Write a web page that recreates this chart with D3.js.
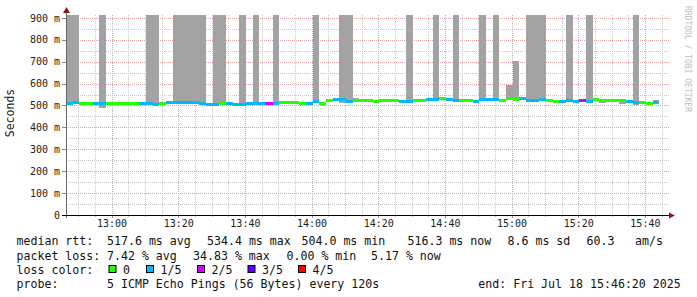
<!DOCTYPE html>
<html><head><meta charset="utf-8">
<script src="https://cdn.jsdelivr.net/npm/d3@7"></script>
<style>
html,body{margin:0;padding:0;background:#fff;}
svg{display:block;}
text{font-family:"DejaVu Sans Mono",monospace;}
</style></head>
<body><svg id="c" width="697" height="297"></svg>
<script>
// ---- data (ms) ----
const startTime = "2025-07-18T12:46:20Z";
const endTime = "2025-07-18T15:46:20Z";
const stepSeconds = 120;
const median = [507,513,510,510,510,507,509,510,510,510,510,510,510,506,510,515,512,512,514,512,
508,505,505,508,507,506,506,508,508,508,508,510,513,513,514,508,511,518,508,521,
525,525,519,521,521,524,519,524,521,521,519,519,522,522,527,527,530,525,524,521,
521,519,527,528,525,521,530,527,530,524,524,527,524,518,516,521,516,524,519,525,
524,521,521,524,519,515,513,510,513];
const lossIndex = [1,1,0,0,1,1,0,0,0,0,0,1,1,1,0,1,1,1,1,1,
1,1,1,0,1,1,1,1,1,1,2,1,0,0,0,0,1,1,0,0,
1,1,1,0,0,0,0,0,0,0,1,1,0,0,1,1,0,1,1,0,
0,1,1,1,1,0,0,0,1,1,1,1,0,0,1,1,1,2,1,0,
0,0,0,0,1,1,0,0,1];
const smokeLow = [503,508,507,507,506,487,505,507,507,506,507,507,505,502,506,511,508,508,510,507,
503,501,500,503,503,502,501,504,504,505,505,506,509,509,510,504,507,511,504,515,
520,513,510,517,517,519,514,518,516,515,514,514,518,517,522,521,526,521,518,516,
515,514,521,524,520,515,526,522,526,519,519,522,520,514,510,516,511,520,514,520,
512,516,517,508,514,500,508,506,508];
const smokeHigh = [1000,1000,513,513,514,1000,512,513,514,513,513,514,1000,1000,514,518,1000,1000,1000,1000,
1000,509,1000,1000,511,510,1000,512,1000,511,511,1000,517,522,522,513,514,1000,512,524,
528,1000,1000,532,525,527,523,528,525,528,523,1000,526,526,533,1000,534,529,1000,528,
527,524,1000,532,1000,526,594,703,534,1000,1000,1000,528,523,522,1000,527,528,1000,529,
528,527,525,528,524,1000,517,514,526];
const lossLabels = ["0","1/5","2/5","3/5","4/5"];
const lossColors = ["#26ff00","#00b8ff","#d400ff","#5e00ff","#ff0000"];
const yTicks = [0,100,200,300,400,500,600,700,800,900];

// ---- layout ----
const svg = d3.select("#c");
svg.append("rect").attr("width",697).attr("height",297).attr("fill","#fff");
const L = 66, R = 666, T = 15, B = 215;
const x = d3.scaleUtc().domain([new Date(startTime), new Date(endTime)]).range([L, R]);
const y = d3.scaleLinear().domain([0, 913]).range([B, T]);
const t0 = new Date(startTime).getTime();
const times = median.map((_, i) => new Date(t0 + i * stepSeconds * 1000));

// grid
const g = svg.append("g");
const minorY = d3.range(50, 901, 100);
g.selectAll("line.hmin").data(minorY).join("line")
  .attr("x1", L).attr("x2", 669).attr("y1", d => Math.round(y(d)) + 0.5).attr("y2", d => Math.round(y(d)) + 0.5)
  .attr("stroke", "#c8c8c8").attr("stroke-dasharray", "1,1");
const minorX = d3.utcMinute.every(5).range(new Date(startTime), new Date(endTime)).filter(d => d.getUTCMinutes() % 20 !== 0);
g.selectAll("line.vmin").data(minorX).join("line")
  .attr("x1", d => Math.round(x(d)) + 0.5).attr("x2", d => Math.round(x(d)) + 0.5).attr("y1", T).attr("y2", B)
  .attr("stroke", "#c8c8c8").attr("stroke-dasharray", "1,1");
g.selectAll("line.hmaj").data(yTicks.slice(1)).join("line")
  .attr("x1", L).attr("x2", 669).attr("y1", d => Math.round(y(d)) + 0.5).attr("y2", d => Math.round(y(d)) + 0.5)
  .attr("stroke", "#e4a0a0").attr("stroke-dasharray", "1,1");
const majorX = d3.utcMinute.every(20).range(new Date(startTime), new Date(endTime));
g.selectAll("line.vmaj").data(majorX).join("line")
  .attr("x1", d => Math.round(x(d)) + 0.5).attr("x2", d => Math.round(x(d)) + 0.5).attr("y1", T).attr("y2", B)
  .attr("stroke", "#e4a0a0").attr("stroke-dasharray", "1,1");

// clip
svg.append("clipPath").attr("id","pc").append("rect").attr("x",L).attr("y",T).attr("width",R-L).attr("height",B-T);
const plot = svg.append("g").attr("clip-path","url(#pc)").attr("shape-rendering","crispEdges");
const bx = i => Math.round(x(times[i]));
const bw = i => Math.round(x(new Date(times[i].getTime() + stepSeconds*1000))) - bx(i);

// smoke
plot.selectAll("rect.smoke").data(median).join("rect")
  .attr("x", (d,i) => bx(i)).attr("width", (d,i) => bw(i))
  .attr("y", (d,i) => Math.round(y(smokeHigh[i]))).attr("height", (d,i) => Math.round(y(smokeLow[i])) - Math.round(y(smokeHigh[i])))
  .attr("fill", "#a3a3a3");
// median
plot.selectAll("rect.med").data(median).join("rect")
  .attr("x", (d,i) => bx(i)).attr("width", (d,i) => bw(i))
  .attr("y", d => Math.round(y(d) - 1.5)).attr("height", 3)
  .attr("fill", (d,i) => lossColors[lossIndex[i]]);

// axes
const xAxis = d3.axisBottom(x).ticks(d3.utcMinute.every(20)).tickFormat(d3.utcFormat("%H:%M")).tickSize(0).tickPadding(5);
const xa = svg.append("g").attr("transform", `translate(0,${B})`).call(xAxis);
xa.select(".domain").remove();
xa.selectAll("text").attr("font-family","DejaVu Sans Mono").attr("font-size","10px").attr("fill","#222");
const yAxis = d3.axisLeft(y).tickValues(yTicks).tickFormat(d => d === 0 ? "0" : d + " m").tickSize(0).tickPadding(6);
const ya = svg.append("g").attr("transform", `translate(${L},0)`).call(yAxis);
ya.select(".domain").remove();
ya.selectAll("text").attr("font-family","DejaVu Sans Mono").attr("font-size","10px").attr("fill","#222");

// axis ticks
svg.selectAll("line.ytk").data(yTicks).join("line")
  .attr("x1", L-4).attr("x2", L).attr("y1", d => Math.round(y(d))+0.5).attr("y2", d => Math.round(y(d))+0.5)
  .attr("stroke","#888");
svg.selectAll("line.xtk").data(majorX).join("line")
  .attr("x1", d => Math.round(x(d))+0.5).attr("x2", d => Math.round(x(d))+0.5).attr("y1", B).attr("y2", B+3)
  .attr("stroke","#c08080");
svg.selectAll("line.xtm").data(minorX).join("line")
  .attr("x1", d => Math.round(x(d))+0.5).attr("x2", d => Math.round(x(d))+0.5).attr("y1", B).attr("y2", B+2)
  .attr("stroke","#bbb");
// axis lines + arrows
svg.append("line").attr("x1", L+0.5).attr("x2", L+0.5).attr("y1", B+3).attr("y2", 12).attr("stroke","#666");
svg.append("line").attr("x1", 62).attr("x2", 670).attr("y1", B+0.5).attr("y2", B+0.5).attr("stroke","#000");
svg.append("path").attr("d", `M${L-3},${13}L${L+0.5},${7}L${L+4},${13}Z`).attr("fill","#8b1a1a");
svg.append("path").attr("d", `M669,${B-2.5}L675,${B+0.5}L669,${B+3.5}Z`).attr("fill","#8b1a1a");

// titles
svg.append("text").attr("transform","translate(14,113) rotate(-90)").attr("text-anchor","middle")
  .attr("font-size","11.5px").attr("fill","#222").text("Seconds");
svg.append("text").attr("transform","translate(685,59) rotate(90)").attr("text-anchor","middle")
  .attr("font-size","8px").attr("fill","#c0c0c0").text("RRDTOOL / TOBI OETIKER");

// legend
const fs = "11.6px";
const legend = svg.append("g").attr("font-size", fs).attr("fill","#111");
const rows = [
  [[16.5,"median rtt:"],[107,"517.6 ms avg"],[207,"534.4 ms max"],[301.5,"504.0 ms min"],[407.5,"516.3 ms now"],[507.5,"8.6 ms sd"],[586.5,"60.3"],[635,"am/s"]],
  [[16.5,"packet loss:"],[107,"7.42 % avg"],[193,"34.83 % max"],[286.5,"0.00 % min"],[371,"5.17 % now"]],
  [[16.5,"loss color:"]],
  [[16.5,"probe:"],[107,"5 ICMP Echo Pings (56 Bytes) every 120s"],[478.3,"end: Fri Jul 18 15:46:20 2025"]]
];
const baselines = [245, 259.5, 273.5, 288];
rows.forEach((r, ri) => r.forEach(([tx, s]) => legend.append("text").attr("x", tx).attr("y", baselines[ri]).attr("xml:space","preserve").text(s)));
const sqX = [108.5, 146, 197, 247.5, 298];
lossLabels.forEach((lab, i) => {
  legend.append("rect").attr("x", sqX[i]+0.5).attr("y", 265.5).attr("width", 7).attr("height", 7)
    .attr("fill", lossColors[i]).attr("stroke","#000").attr("stroke-width",1);
  legend.append("text").attr("x", sqX[i] + 14.5).attr("y", baselines[2]).text(lab);
});
</script></body></html>
